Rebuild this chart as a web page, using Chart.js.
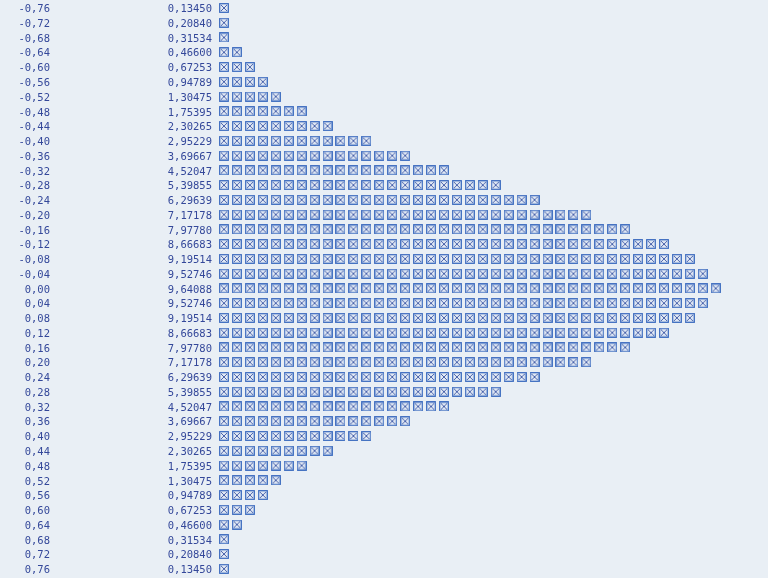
<!DOCTYPE html>
<html>
<head>
<meta charset="utf-8">
<script src="https://cdn.jsdelivr.net/npm/chart.js@4.4.1/dist/chart.umd.min.js"></script>
<style>
  html, body { margin: 0; padding: 0; background: #e9eff5; }
  #wrap { width: 768px; height: 578px; position: relative; }
</style>
</head>
<body>
<div id="wrap"><canvas id="c" width="768" height="578"></canvas></div>
<script>
// Row labels (bin positions), as printed
const rowLabels = [
  "-0,76","-0,72","-0,68","-0,64","-0,60","-0,56","-0,52","-0,48","-0,44","-0,40",
  "-0,36","-0,32","-0,28","-0,24","-0,20","-0,16","-0,12","-0,08","-0,04","0,00",
  "0,04","0,08","0,12","0,16","0,20","0,24","0,28","0,32","0,36","0,40",
  "0,44","0,48","0,52","0,56","0,60","0,64","0,68","0,72","0,76"
];
// Printed values per row
const rowValues = [
  "0,13450","0,20840","0,31534","0,46600","0,67253","0,94789","1,30475","1,75395","2,30265","2,95229",
  "3,69667","4,52047","5,39855","6,29639","7,17178","7,97780","8,66683","9,19514","9,52746","9,64088",
  "9,52746","9,19514","8,66683","7,97780","7,17178","6,29639","5,39855","4,52047","3,69667","2,95229",
  "2,30265","1,75395","1,30475","0,94789","0,67253","0,46600","0,31534","0,20840","0,13450"
];
// Number of box symbols printed on each row
const boxCounts = [
  1,1,1,2,3,4,5,7,9,12,
  15,18,22,25,29,32,35,37,38,39,
  38,37,35,32,29,25,22,18,15,12,
  9,7,5,4,3,2,1,1,1
];

// Build the point table the library needs
const points = [];
rowLabels.forEach((lab, i) => {
  for (let k = 1; k <= boxCounts[i]; k++) points.push({ x: k, y: lab });
});

// Ballot-box-with-X symbol as point style
function makeBox() {
  const s = 10;
  const c = document.createElement('canvas');
  c.width = s; c.height = s;
  const g = c.getContext('2d');
  g.fillStyle = '#e2e9f4';
  g.fillRect(0, 0, s, s);
  g.strokeStyle = '#4a64ad';
  g.lineWidth = 1;
  g.beginPath();
  g.moveTo(2, 2); g.lineTo(s - 2, s - 2);
  g.moveTo(s - 2, 2); g.lineTo(2, s - 2);
  g.stroke();
  g.strokeStyle = '#3566bd';
  g.lineWidth = 1.2;
  g.strokeRect(0.7, 0.7, s - 1.4, s - 1.4);
  return c;
}
const boxImg = makeBox();

const textColor = '#34489a';
const monoFont = { family: '"DejaVu Sans Mono", "Liberation Mono", monospace', size: 10.5 };

function fixAxis(w) {
  return (s) => {
    s.width = w;
    s.paddingTop = 0; s.paddingBottom = 0; s.paddingLeft = 0; s.paddingRight = 0;
  };
}

new Chart(document.getElementById('c'), {
  type: 'scatter',
  data: {
    datasets: [{
      data: points,
      yAxisID: 'yLab',
      pointStyle: boxImg,
      pointRadius: 5,
      pointHoverRadius: 5
    }]
  },
  options: {
    responsive: false,
    animation: false,
    events: [],
    layout: { autoPadding: false, padding: { left: 0, right: 0, top: 0.6, bottom: 1.8 } },
    plugins: { legend: { display: false }, tooltip: { enabled: false } },
    scales: {
      x: {
        type: 'linear',
        display: false,
        min: 0.382,
        max: 43.04
      },
      yLab: {
        type: 'category',
        position: 'left',
        weight: 1,
        labels: rowLabels,
        offset: true,
        grid: { display: false, drawTicks: false },
        border: { display: false },
        ticks: { autoSkip: false, color: textColor, font: monoFont, padding: 0, crossAlign: 'near', labelOffset: 1.5 },
        afterFit: fixAxis(50)
      },
      yVal: {
        type: 'category',
        position: 'left',
        weight: 0,
        labels: rowValues,
        offset: true,
        grid: { display: false, drawTicks: false },
        border: { display: false },
        ticks: { autoSkip: false, color: textColor, font: monoFont, padding: 4, crossAlign: 'near', labelOffset: 1.5 },
        afterFit: fixAxis(166)
      }
    }
  }
});
</script>
</body>
</html>
